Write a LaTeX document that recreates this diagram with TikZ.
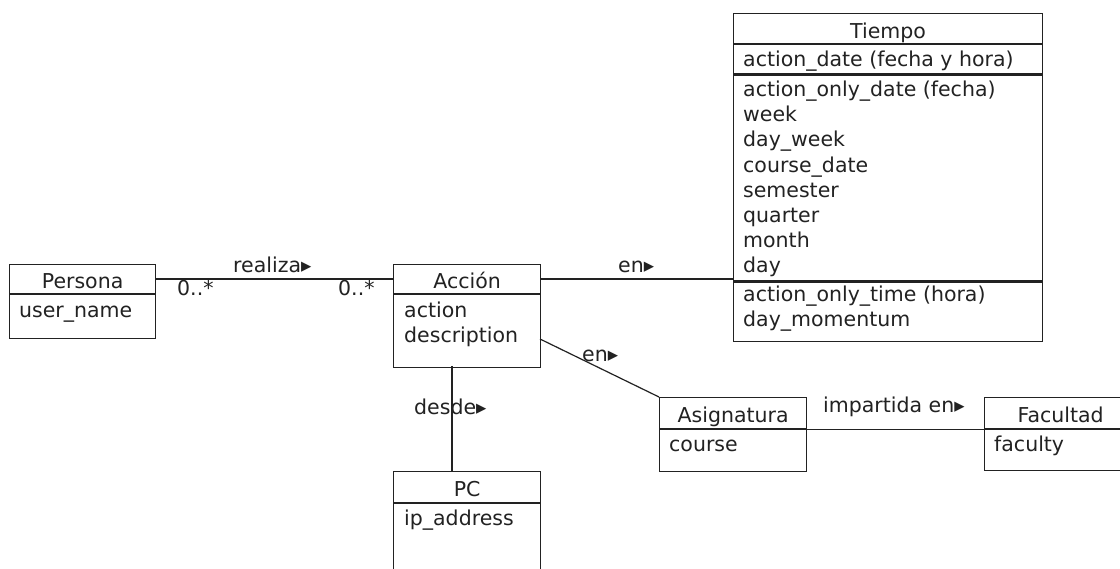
\documentclass[tikz,border=0pt]{standalone}
\usepackage{fontspec}
\setmainfont{DejaVu Sans}
\definecolor{ink}{HTML}{222222}
\tikzset{
  x=1pt, y=-1pt,
  every node/.style={font=\fontsize{20.5}{25}\selectfont, text=ink, inner sep=0pt},
  head/.style={draw=ink, line width=1.2pt, anchor=north west,
    text height=23.5pt, text depth=4.5pt},
  part/.style={draw=ink, line width=1.2pt, anchor=north west},
  attr/.style={anchor=base west},
  lbl/.style={anchor=base west},
  conn/.style={draw=ink, line width=1.2pt},
}
\begin{document}
\begin{tikzpicture}
\useasboundingbox (0,0) rectangle (1120,569);
\fill[white] (0,0) rectangle (1120,569);
\clip (0,0) rectangle (1120,569);

% Persona
\node[head, minimum width=146pt, minimum height=29pt] (persona-h) at (9,264) {Persona};
\node[part, minimum width=146pt, minimum height=44pt] (persona) at (persona-h.south west) {};
\node[attr] (persona-1) at (19,318) {user\_name};

% Accion
\node[head, minimum width=147pt, minimum height=29pt] (accion-h) at (393,264) {Acción};
\node[part, minimum width=147pt, minimum height=73pt] (accion) at (accion-h.south west) {};
\node[attr] (accion-1) at (404,318) {action};
\node[attr] (accion-2) at (404,343) {description};

% Tiempo
\node[head, minimum width=309pt, minimum height=30pt] (tiempo-h) at (733,13) {Tiempo};
\node[part, minimum width=309pt, minimum height=29pt] (tiempo-a) at (tiempo-h.south west) {};
\node[part, minimum width=309pt, minimum height=206pt] (tiempo-b) at (tiempo-a.south west) {};
\node[part, minimum width=309pt, minimum height=59pt] (tiempo-c) at (tiempo-b.south west) {};
\node[attr] (tiempo-a1) at (743,66.5) {action\_date (fecha y hora)};
\foreach \t [count=\i] in {action\_only\_date (fecha), week, day\_week, course\_date,
    semester, quarter, month, day}
  \node[attr] (tiempo-b\i) at (743,{96.7+25.15*(\i-1)}) {\t};
\node[attr] (tiempo-c1) at (743,301.7) {action\_only\_time (hora)};
\node[attr] (tiempo-c2) at (743,326.7) {day\_momentum};

% Asignatura
\node[head, minimum width=147pt, minimum height=31pt] (asig-h) at (659,397) {Asignatura};
\node[part, minimum width=147pt, minimum height=42pt] (asig) at (asig-h.south west) {};
\node[attr] (asig-1) at (669,451) {course};

% Facultad
\node[head, minimum width=152pt, minimum height=31pt] (facu-h) at (984,397) {Facultad};
\node[part, minimum width=152pt, minimum height=41pt] (facu) at (facu-h.south west) {};
\node[attr] (facu-1) at (994,451.7) {faculty};

% PC
\node[head, minimum width=147pt, minimum height=31pt] (pc-h) at (393,471) {PC};
\node[part, minimum width=147pt, minimum height=100pt] (pc) at (pc-h.south west) {};
\node[attr] (pc-1) at (404,525) {ip\_address};

% Associations
\coordinate (accion-se) at (540,339);
\coordinate (accion-s) at (452,366);
\draw[conn] (persona-h.east) -- (accion-h.west);
\draw[conn] (accion-h.east) -- (accion-h.east -| tiempo-b.west);
\draw[conn] (accion-se) -- (asig-h.north west);
\draw[conn] (accion-s) -- (accion-s |- pc-h.north);
\draw[conn] (asig-h.south east) -- (asig-h.south east -| facu-h.west);

% Association names and multiplicities
\node[lbl] (l-realiza) at (233,273) {realiza▸};
\node[lbl] (m-persona) at (177,296) {0..*};
\node[lbl] (m-accion) at (338,296) {0..*};
\node[lbl] (l-en-tiempo) at (618,273) {en▸};
\node[lbl] (l-en-asig) at (582,362) {en▸};
\node[lbl] (l-desde) at (414,414) {desde▸};
\node[lbl] (l-impartida) at (823,413) {impartida en▸};
\end{tikzpicture}
\end{document}
